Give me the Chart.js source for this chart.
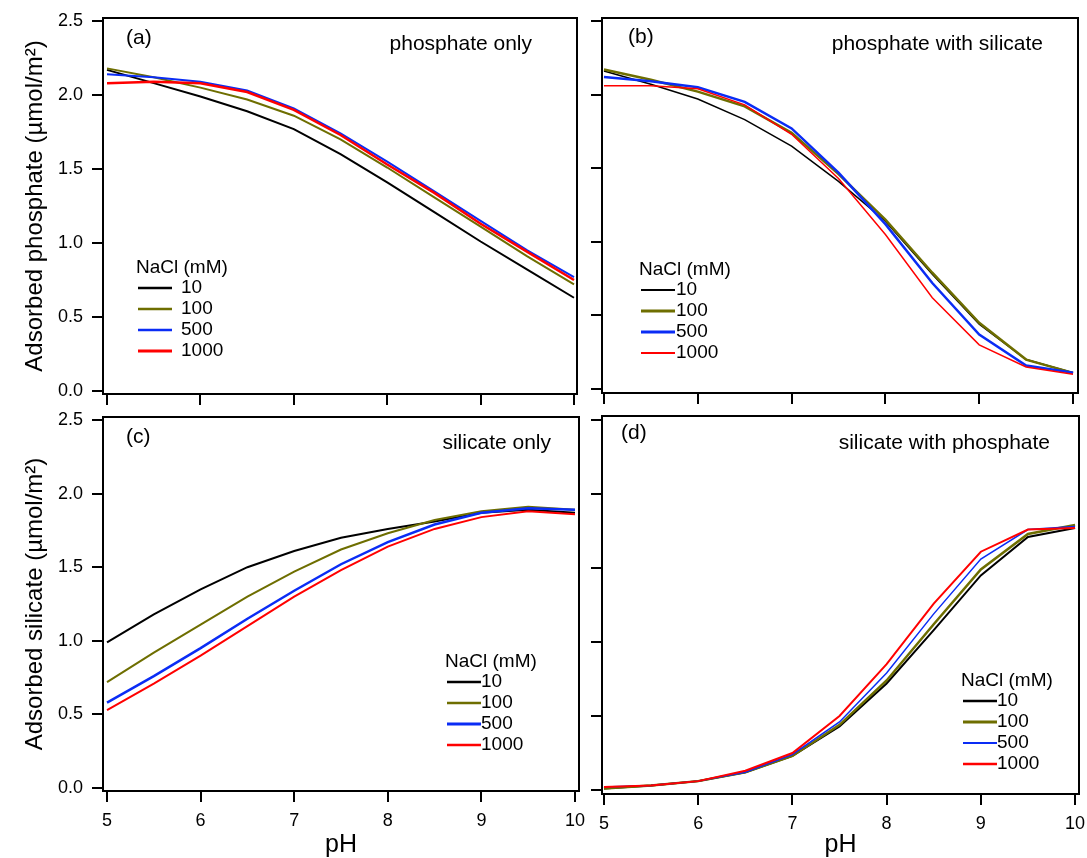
<!DOCTYPE html>
<html>
<head>
<meta charset="utf-8">
<script src="https://cdn.jsdelivr.net/npm/chart.js@4.4.1/dist/chart.umd.min.js"></script>
<style>
  body { margin: 0; background: #fff; }
  #wrap { position: relative; width: 1087px; height: 858px; }
  canvas { position: absolute; }
</style>
</head>
<body>
<div id="wrap">
  <canvas id="pa" width="590" height="410" style="left:0;top:0"></canvas>
  <canvas id="pb" width="497" height="410" style="left:590px;top:0"></canvas>
  <canvas id="pc" width="590" height="453" style="left:0;top:405px"></canvas>
  <canvas id="pd" width="497" height="453" style="left:590px;top:405px"></canvas>
</div>
<script>
// pH values shared by all curves
const pH = [5, 5.5, 6, 6.5, 7, 7.5, 8, 8.5, 9, 9.5, 10];
const nacl = ['10', '100', '500', '1000'];
const xTicks = [5, 6, 7, 8, 9, 10];
const yTicks = [0, 0.5, 1, 1.5, 2, 2.5];

// (a) phosphate only
const pOnly10   = [2.17, 2.08, 1.99, 1.89, 1.77, 1.60, 1.41, 1.21, 1.01, 0.82, 0.63];
const pOnly100  = [2.18, 2.12, 2.05, 1.97, 1.86, 1.70, 1.51, 1.31, 1.11, 0.91, 0.72];
const pOnly500  = [2.14, 2.12, 2.09, 2.03, 1.91, 1.74, 1.55, 1.35, 1.15, 0.95, 0.77];
const pOnly1000 = [2.08, 2.09, 2.08, 2.02, 1.90, 1.73, 1.53, 1.34, 1.13, 0.94, 0.75];

// (b) phosphate with silicate
const pSi10   = [2.16, 2.07, 1.97, 1.83, 1.65, 1.41, 1.14, 0.78, 0.44, 0.20, 0.11];
const pSi100  = [2.17, 2.10, 2.02, 1.92, 1.74, 1.46, 1.15, 0.79, 0.45, 0.20, 0.11];
const pSi500  = [2.12, 2.09, 2.05, 1.95, 1.77, 1.47, 1.12, 0.72, 0.37, 0.16, 0.11];
const pSi1000 = [2.06, 2.06, 2.04, 1.93, 1.73, 1.43, 1.05, 0.62, 0.30, 0.15, 0.10];

// (c) silicate only
const sOnly10   = [0.99, 1.18, 1.35, 1.50, 1.61, 1.70, 1.76, 1.81, 1.87, 1.89, 1.87];
const sOnly100  = [0.72, 0.92, 1.11, 1.30, 1.47, 1.62, 1.73, 1.82, 1.88, 1.91, 1.89];
const sOnly500  = [0.58, 0.76, 0.95, 1.15, 1.34, 1.52, 1.67, 1.79, 1.87, 1.90, 1.89];
const sOnly1000 = [0.53, 0.71, 0.90, 1.10, 1.30, 1.48, 1.64, 1.76, 1.84, 1.88, 1.86];

// (d) silicate with phosphate
const sP10   = [0.01, 0.03, 0.06, 0.12, 0.23, 0.43, 0.72, 1.08, 1.45, 1.71, 1.77];
const sP100  = [0.01, 0.03, 0.06, 0.12, 0.23, 0.44, 0.74, 1.12, 1.49, 1.73, 1.79];
const sP500  = [0.02, 0.03, 0.06, 0.12, 0.24, 0.46, 0.79, 1.19, 1.56, 1.76, 1.78];
const sP1000 = [0.02, 0.03, 0.06, 0.13, 0.25, 0.50, 0.85, 1.26, 1.61, 1.76, 1.77];

const colors = ['#000000', '#6e6e00', '#0a2cf5', '#ff0000'];
const FONT = '"Liberation Sans", Arial, sans-serif';

// frame, panel tag, panel title and the inside legend
const panelDecor = {
  id: 'panelDecor',
  afterDatasetsDraw(chart, args, o) {
    const { ctx, chartArea: a } = chart;
    ctx.save();
    ctx.strokeStyle = '#000';
    ctx.lineWidth = 2;
    ctx.strokeRect(a.left, a.top, a.right - a.left, a.bottom - a.top);

    ctx.fillStyle = '#000';
    ctx.textBaseline = 'middle';
    ctx.font = '21px ' + FONT;
    ctx.textAlign = 'left';
    ctx.fillText(o.tag, a.left + o.tagX, a.top + o.tagY);
    ctx.textAlign = 'right';
    ctx.fillText(o.title, a.right - o.titleX, a.top + o.titleY);

    // legend
    ctx.font = '19px ' + FONT;
    ctx.textAlign = 'left';
    const lx = a.left + o.legX, ly = a.top + o.legY;
    ctx.fillText('NaCl (mM)', lx, ly);
    chart.data.datasets.forEach((ds, i) => {
      const y = ly + 20 + i * 21;
      ctx.strokeStyle = ds.borderColor;
      ctx.lineWidth = ds.borderWidth + 0.5;
      ctx.beginPath();
      ctx.moveTo(lx + 2, y);
      ctx.lineTo(lx + 36, y);
      ctx.stroke();
      ctx.fillText(ds.label, lx + o.legText, y);
    });
    ctx.restore();
  }
};

function makePanel(id, series, widths, p) {
  const datasets = series.map((vals, i) => ({
    label: nacl[i],
    data: pH.map((x, k) => ({ x: x, y: vals[k] })),
    borderColor: colors[i],
    borderWidth: widths[i],
    pointRadius: 0,
    tension: 0,
    fill: false,
    order: 3 - i
  }));

  new Chart(document.getElementById(id), {
    type: 'line',
    data: { datasets: datasets },
    options: {
      responsive: false,
      animation: false,
      devicePixelRatio: 1,
      layout: { padding: { left: 0, top: p.padTop, right: p.padRight, bottom: 0 } },
      plugins: {
        legend: { display: false },
        tooltip: { enabled: false },
        panelDecor: p.decor
      },
      scales: {
        x: {
          type: 'linear',
          min: p.xMin, max: p.xMax,
          afterBuildTicks: s => { s.ticks = xTicks.map(v => ({ value: v })); },
          afterFit: s => { s.height = p.xH; s.paddingLeft = 0; s.paddingRight = 0; },
          border: { display: false },
          grid: { drawOnChartArea: false, drawTicks: true, tickLength: 11, color: '#000', lineWidth: 2 },
          ticks: {
            display: p.xLabels, color: '#000', padding: 8,
            font: { family: FONT, size: 18 }, maxRotation: 0,
            callback: v => String(v)
          },
          title: {
            display: p.xLabels, text: 'pH', color: '#000',
            font: { family: FONT, size: 25, lineHeight: 1 },
            padding: { top: 0, bottom: 0 }
          }
        },
        y: {
          min: p.yMin, max: p.yMax,
          afterBuildTicks: s => { s.ticks = yTicks.map(v => ({ value: v })); },
          afterFit: s => { s.width = p.yW; s.paddingTop = 0; s.paddingBottom = 0; },
          border: { display: false },
          grid: { drawOnChartArea: false, drawTicks: true, tickLength: 11, color: '#000', lineWidth: 2 },
          ticks: {
            display: !!p.yTitle, color: '#000', padding: 9,
            font: { family: FONT, size: 18 },
            callback: v => v.toFixed(1)
          },
          title: {
            display: !!p.yTitle, text: p.yTitle || '', color: '#000',
            font: { family: FONT, size: 24, lineHeight: 1 },
            padding: { top: 23, bottom: 0 }
          }
        }
      }
    },
    plugins: [panelDecor]
  });
}

makePanel('pa', [pOnly10, pOnly100, pOnly500, pOnly1000], [2, 2, 2, 2.5], {
  padTop: 18, padRight: 13, yW: 103, xH: 16,
  xMin: 4.957, xMax: 10.032, yMin: -0.0203, yMax: 2.5203,
  xLabels: false, yTitle: 'Adsorbed phosphate (µmol/m²)',
  decor: { tag: '(a)', tagX: 23, tagY: 20, title: 'phosphate only', titleX: 45, titleY: 26,
           legX: 33, legY: 250, legText: 45 }
});

makePanel('pb', [pSi10, pSi100, pSi500, pSi1000], [1.5, 2.5, 2.5, 1.5], {
  padTop: 18, padRight: 9, yW: 12, xH: 17,
  xMin: 4.979, xMax: 10.053, yMin: -0.027, yMax: 2.520,
  xLabels: false, yTitle: null,
  decor: { tag: '(b)', tagX: 26, tagY: 19, title: 'phosphate with silicate', titleX: 35, titleY: 26,
           legX: 37, legY: 252, legText: 37 }
});

makePanel('pc', [sOnly10, sOnly100, sOnly500, sOnly1000], [2, 2, 2.5, 2], {
  padTop: 12, padRight: 11, yW: 103, xH: 67,
  xMin: 4.957, xMax: 10.043, yMin: -0.020, yMax: 2.520,
  xLabels: true, yTitle: 'Adsorbed silicate (µmol/m²)',
  decor: { tag: '(c)', tagX: 23, tagY: 20, title: 'silicate only', titleX: 28, titleY: 26,
           legX: 342, legY: 245, legText: 36 }
});

makePanel('pd', [sP10, sP100, sP500, sP1000], [2, 2.5, 1.5, 2], {
  padTop: 11, padRight: 8, yW: 12, xH: 64,
  xMin: 4.979, xMax: 10.042, yMin: -0.027, yMax: 2.527,
  xLabels: true, yTitle: null,
  decor: { tag: '(d)', tagX: 19, tagY: 17, title: 'silicate with phosphate', titleX: 29, titleY: 27,
           legX: 359, legY: 265, legText: 36 }
});
</script>
</body>
</html>
